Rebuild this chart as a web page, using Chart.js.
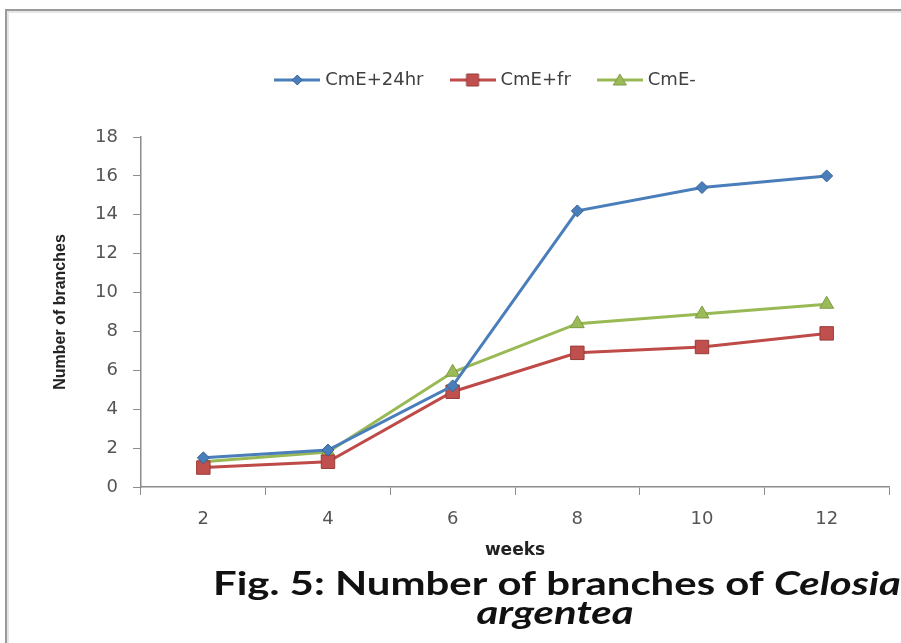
<!DOCTYPE html>
<html>
<head>
<meta charset="utf-8">
<script src="https://cdn.jsdelivr.net/npm/chart.js@4.4.1/dist/chart.umd.min.js"></script>
<style>
  html, body { margin: 0; padding: 0; background: #fff; }
  #wrap { position: relative; width: 901px; height: 643px; overflow: hidden; background: #fff; }
  #frame {
    position: absolute; left: 5px; top: 9px; right: -6px; bottom: -6px;
    border-top: 2px solid #9a9a9a; border-left: 2px solid #9a9a9a;
    box-shadow: inset 2px 2px 0 #e6e6e6;
  }
  #c { position: absolute; left: 0; top: 0; }
</style>
</head>
<body>
<div id="wrap">
  <div id="frame"></div>
  <canvas id="c" width="901" height="643"></canvas>
</div>
<script>
// Weeks after treatment and mean number of branches per plant
const weeks = ['2', '4', '6', '8', '10', '12'];
const seriesNames = ['CmE+24hr', 'CmE+fr', 'CmE-'];
const cmE24hr = [1.5, 1.9, 5.2, 14.2, 15.4, 16.0];
const cmEfr = [1.0, 1.3, 4.9, 6.9, 7.2, 7.9];
const cmEminus = [1.3, 1.8, 5.9, 8.4, 8.9, 9.4];
const yAxisMin = 0, yAxisMax = 18, yAxisStep = 2;

const xTitle = 'weeks';
const yTitle = 'Number of branches';
const captionLead = 'Fig. 5: Number of branches of ';
const captionGenus = 'Celosia';
const captionSpecies = 'argentea';

const styles = [
  { line: '#4A7EBB', fill: '#4A7EBB', edge: '#3A6396', shape: 'rectRot', r: 6 },
  { line: '#BE4B48', fill: '#C0504D', edge: '#9A3B38', shape: 'rect', r: 9.5 },
  { line: '#98B954', fill: '#9BBB59', edge: '#7E9A45', shape: 'triangle', r: 8 }
];

// Legend swatch: a short line with the series marker in the middle
function legendIcon(s) {
  const w = 46, h = 16;
  const cv = document.createElement('canvas');
  cv.width = w; cv.height = h;
  const g = cv.getContext('2d');
  g.strokeStyle = s.line; g.lineWidth = 3;
  g.beginPath(); g.moveTo(0, h / 2); g.lineTo(w, h / 2); g.stroke();
  g.fillStyle = s.fill; g.strokeStyle = s.edge; g.lineWidth = 1;
  const cx = w / 2, cy = h / 2;
  g.beginPath();
  if (s.shape === 'rectRot') {
    g.moveTo(cx, cy - 5); g.lineTo(cx + 5, cy); g.lineTo(cx, cy + 5); g.lineTo(cx - 5, cy);
  } else if (s.shape === 'rect') {
    g.rect(cx - 6, cy - 6, 12, 12);
  } else {
    g.moveTo(cx, cy - 6); g.lineTo(cx + 6.5, cy + 5); g.lineTo(cx - 6.5, cy + 5);
  }
  g.closePath(); g.fill(); g.stroke();
  return cv;
}
const icons = styles.map(legendIcon);

function makeDataset(label, data, s) {
  return {
    label, data,
    borderColor: s.line, borderWidth: 3,
    backgroundColor: s.fill,
    pointStyle: s.shape, pointRadius: s.r, pointHoverRadius: s.r,
    pointBackgroundColor: s.fill, pointBorderColor: s.edge, pointBorderWidth: 1,
    tension: 0, fill: false
  };
}

// Extra room under the legend
const legendSpacer = {
  id: 'legendSpacer',
  beforeInit(chart) {
    const fit = chart.legend.fit;
    chart.legend.fit = function () {
      fit.call(this);
      this.height = 96;
    };
  }
};

// Figure caption under the axis title (wide, stretched lettering)
const caption = {
  id: 'caption',
  afterDraw(chart) {
    const ctx = chart.ctx;
    const stretch = 1.31;
    ctx.save();
    ctx.fillStyle = '#111';
    ctx.textBaseline = 'middle';
    ctx.textAlign = 'left';
    ctx.translate(213, 585);
    ctx.scale(stretch, 1);
    ctx.font = 'bold 32px Lato';
    ctx.fillText(captionLead, 0, 0);
    const w = ctx.measureText(captionLead).width;
    ctx.font = 'italic bold 32px Lato';
    ctx.fillText(captionGenus, w, 0);
    ctx.restore();

    ctx.save();
    ctx.fillStyle = '#111';
    ctx.textBaseline = 'middle';
    ctx.textAlign = 'center';
    ctx.translate(555, 614);
    ctx.scale(stretch, 1);
    ctx.font = 'italic bold 32px Lato';
    ctx.fillText(captionSpecies, 0, 0);
    ctx.restore();
  }
};

new Chart(document.getElementById('c'), {
  type: 'line',
  data: {
    labels: weeks,
    datasets: [
      makeDataset(seriesNames[0], cmE24hr, styles[0]),
      makeDataset(seriesNames[1], cmEfr, styles[1]),
      makeDataset(seriesNames[2], cmEminus, styles[2])
    ]
  },
  options: {
    responsive: false,
    animation: false,
    devicePixelRatio: 1,
    layout: { padding: { left: 85, right: 12, top: 41, bottom: 81 } },
    plugins: {
      tooltip: { enabled: false },
      legend: {
        position: 'top',
        labels: {
          usePointStyle: true,
          pointStyleWidth: 38,
          padding: 30,
          color: '#404040',
          font: { family: 'DejaVu Sans', size: 18 },
          generateLabels(chart) {
            const items = Chart.defaults.plugins.legend.labels.generateLabels(chart);
            items.forEach((it, i) => { it.pointStyle = icons[i]; });
            return items;
          }
        }
      }
    },
    scales: {
      x: {
        type: 'category',
        offset: true,
        afterFit(scale) { scale.height = 75; },
        grid: { offset: true, drawOnChartArea: false, drawTicks: true, tickLength: 8, color: '#8c8c8c', lineWidth: 1 },
        border: { display: true, color: '#8c8c8c', width: 1.5 },
        ticks: { color: '#555', padding: 14, font: { family: 'DejaVu Sans', size: 18 } },
        title: {
          display: true, text: xTitle, color: '#222',
          font: { family: 'DejaVu Sans', size: 17, weight: 'bold' },
          padding: { top: 0, bottom: 1 }
        }
      },
      y: {
        min: yAxisMin, max: yAxisMax,
        afterFit(scale) { scale.width = 56; },
        grid: { drawOnChartArea: false, drawTicks: true, tickLength: 8, color: '#8c8c8c', lineWidth: 1 },
        border: { display: true, color: '#8c8c8c', width: 1.5 },
        ticks: { stepSize: yAxisStep, color: '#555', padding: 15, font: { family: 'DejaVu Sans', size: 18 } },
        title: {
          display: true, text: yTitle, color: '#222',
          font: { family: 'Liberation Sans', size: 16, weight: 'bold' },
          padding: { top: -34, bottom: 0 }
        }
      }
    }
  },
  plugins: [legendSpacer, caption]
});
</script>
</body>
</html>
